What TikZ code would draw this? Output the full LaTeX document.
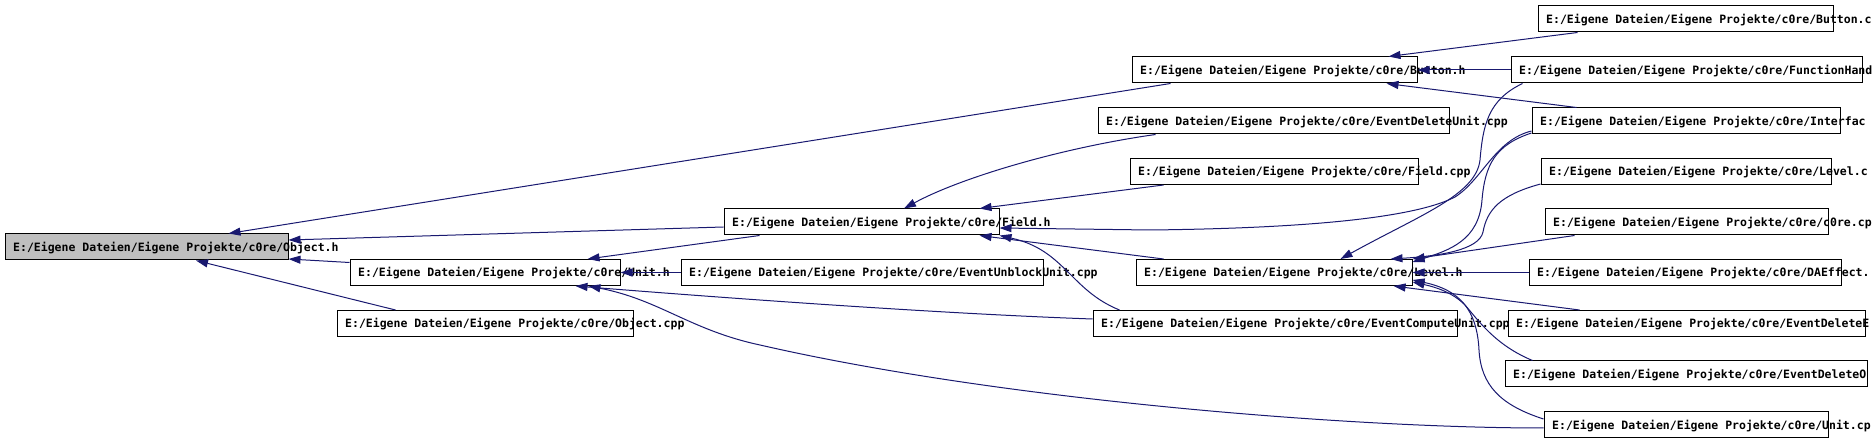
\documentclass[tikz,border=0pt]{standalone}
\usepackage{fontspec}
\setmonofont{DejaVu Sans Mono}
\usetikzlibrary{arrows.meta}
\definecolor{edgecol}{RGB}{25,25,112}
\definecolor{rootfill}{RGB}{191,191,191}
\tikzset{
  filenode/.style={draw=black, line width=1pt, inner sep=0pt, shape=rectangle},
  rootnode/.style={fill=rootfill},
  filetext/.style={anchor=base west, inner sep=0pt, font=\ttfamily\bfseries\fontsize{11.5}{12}\selectfont},
  dep/.style={draw=edgecol, line width=1pt, -{Triangle[length=12pt,width=8pt]}}
}
\newcommand\filebox[7][]{%
  \pgfmathsetmacro\fbW{#5-#3}\pgfmathsetmacro\fbH{#6-#4}%
  \node[filenode,minimum width=\fbW pt,minimum height=\fbH pt,#1] (#2) at ({(#3+#5)/2},{(#4+#6)/2}) {};%
  \node[filetext] (#2-t) at ([xshift=8.5pt,yshift=-4.5pt]#2.west) {E:/Eigene Dateien/Eigene Projekte/c0re/#7};%
}
\begin{document}
\begin{tikzpicture}[x=1pt,y=-1pt]
\useasboundingbox (0,0) rectangle (1872,443);
% nodes
\filebox[rootnode]{objh}{5}{234}{288}{260}{Object.h}
\filebox{unith}{350}{259.5}{620}{285.5}{Unit.h}
\filebox{objcpp}{337}{310.5}{633}{336.5}{Object.cpp}
\filebox{fieldh}{724}{209}{999}{235}{Field.h}
\filebox{unblock}{681}{259.5}{1043}{285.5}{EventUnblockUnit.cpp}
\filebox{buttonh}{1132}{57}{1417}{83}{Button.h}
\filebox{delunit}{1098}{108}{1449}{134}{EventDeleteUnit.cpp}
\filebox{fieldcpp}{1130}{158.5}{1418}{184.5}{Field.cpp}
\filebox{levelh}{1136}{259.5}{1412}{285.5}{Level.h}
\filebox{compute}{1093}{310.5}{1457}{336.5}{EventComputeUnit.cpp}
\filebox{buttoncpp}{1538}{6}{1833}{32}{Button.c}
\filebox{funch}{1511}{57}{1862}{83}{FunctionHand}
\filebox{iface}{1532}{108}{1840}{134}{Interfac}
\filebox{levelcpp}{1541}{158.5}{1831}{184.5}{Level.c}
\filebox{corecpp}{1545}{209}{1828}{235}{c0re.cp}
\filebox{daeffect}{1529}{259.5}{1841}{285.5}{DAEffect.}
\filebox{deleff}{1508}{310.5}{1865}{336.5}{EventDeleteE}
\filebox{delobj}{1505}{361}{1867}{387}{EventDeleteO}
\filebox{unitcpp}{1544}{412}{1828}{438}{Unit.cp}
% edges to Object.h
\draw[dep] ([xshift=39pt]buttonh.south west) -- ([xshift=-60pt]objh.north east);
\draw[dep] ([yshift=-5pt]fieldh.west) -- ([yshift=7pt]objh.east);
\draw[dep] ([yshift=10pt]unith.west) -- ([yshift=-12pt]objh.east);
\draw[dep] ([xshift=59pt]objcpp.north west) -- ([xshift=49.5pt]objh.south);
% edges to Unit.h
\draw[dep] ([xshift=36pt]fieldh.south west) -- ([xshift=-33pt]unith.north east);
\draw[dep] (unblock.west) -- (unith.east);
\draw[dep] ([yshift=4.5pt]compute.west) .. controls (950,314) and (750,300) .. ([xshift=-45pt]unith.south east);
\draw[dep] ([yshift=-3pt]unitcpp.west) .. controls (1350,428) and (1000,400) .. (760,345) .. controls (690,330) and (660,300) .. ([xshift=-32pt]unith.south east);
% edges to Field.h
\draw[dep] ([xshift=58pt]delunit.south west) .. controls (1060,148) and (960,178) .. ([xshift=42.5pt]fieldh.north);
\draw[dep] ([xshift=34pt]fieldcpp.south west) -- ([xshift=-20pt]fieldh.north east);
\draw[dep] ([yshift=-10pt]iface.west) .. controls (1495,140) and (1482,180) .. (1455,197) .. controls (1420,215) and (1330,228) .. (1150,230) -- ([yshift=-6pt]fieldh.east);
\draw[dep] ([xshift=28pt]levelh.north west) -- ([xshift=-20pt]fieldh.south east);
\draw[dep] ([xshift=27pt]compute.north west) .. controls (1070,290) and (1065,250) .. (fieldh.south east);
% edges to Button.h
\draw[dep] ([xshift=40pt]buttoncpp.south west) -- ([xshift=-29pt]buttonh.north east);
\draw[dep] (funch.west) -- (buttonh.east);
\draw[dep] ([xshift=45pt]iface.north west) -- ([xshift=-31pt]buttonh.south east);
% edges to Level.h
\draw[dep] ([xshift=12pt]funch.south west) .. controls (1488,100) and (1483,125) .. (1480,160) .. controls (1476,195) and (1420,215) .. ([xshift=-72pt]levelh.north east);
\draw[dep] ([yshift=-12pt]iface.west) .. controls (1495,145) and (1485,165) .. (1482,200) .. controls (1479,240) and (1450,250) .. ([yshift=-3pt]levelh.north east);
\draw[dep] ([yshift=1pt]levelcpp.south west) .. controls (1500,195) and (1487,210) .. (1483,232) .. controls (1479,250) and (1440,256) .. ([xshift=-22pt]levelh.north east);
\draw[dep] ([xshift=30pt]corecpp.south west) -- (levelh.north east);
\draw[dep] (daeffect.west) -- (levelh.east);
\draw[dep] ([xshift=72pt]deleff.north west) -- ([xshift=-19pt]levelh.south east);
\draw[dep] ([xshift=28pt]delobj.north west) .. controls (1495,345) and (1478,320) .. (1465,305) .. controls (1452,292) and (1435,287) .. ([yshift=4pt]levelh.south east);
\draw[dep] ([yshift=6pt]unitcpp.west) .. controls (1500,405) and (1481,385) .. (1479,350) .. controls (1477,310) and (1460,290) .. ([yshift=6pt]levelh.south east);
\end{tikzpicture}
\end{document}
